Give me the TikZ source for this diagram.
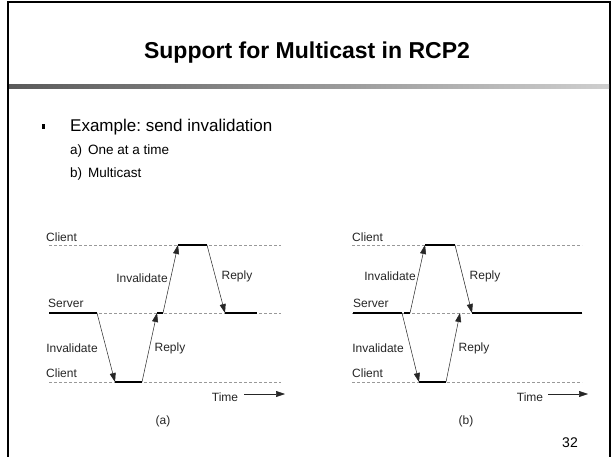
\documentclass[tikz,border=0pt]{standalone}
\usepackage{fontspec}
\setmainfont{Liberation Sans}
\usetikzlibrary{arrows.meta}
\frenchspacing
\definecolor{bardark}{HTML}{5A5A5A}
\definecolor{barlight}{HTML}{CFCFCF}
\definecolor{txt}{HTML}{262626}
\tikzset{
  frame/.style={line width=2pt,black},
  lifeline/.style={draw=gray!80,line width=0.6pt,dash pattern=on 3pt off 2pt},
  busy/.style={line width=2.8pt,black},
  msg/.style={line width=0.5pt,black!85,-{Triangle[length=9pt,width=6pt]}},
  lbl/.style={font=\fontsize{12}{14}\selectfont,text=txt,inner sep=0pt},
  rolelbl/.style={lbl,anchor=west},
  subitem/.style={anchor=base west,inner sep=0pt,font=\fontsize{13.5}{16}\selectfont},
}
\begin{document}
\begin{tikzpicture}[x=1pt,y=-1pt]
\useasboundingbox (0,0) rectangle (613,457);
\fill[white] (0,0) rectangle (613,457);
% slide frame
\draw[frame] (8,457) -- (8,2) -- (610,2) -- (610,457);
\shade[left color=bardark,right color=barlight] (9,85) rectangle (609,89);
\node[font=\fontsize{23}{28}\selectfont\bfseries] (title) at (307,53) {Support for Multicast in RCP2};
% bullets
\fill[black] (41.5,124) rectangle (44.5,129);
\node[anchor=base west,inner sep=0pt,font=\fontsize{17}{20}\selectfont] (ex) at (70,132) {Example: send invalidation};
\node[subitem] (ia) at (70,155) {a)};
\node[subitem] (ta) at (88,155) {One at a time};
\node[subitem] (ib) at (70,178) {b)};
\node[subitem] (tb) at (88,178) {Multicast};

% ===== diagram (a) =====
\draw[lifeline] (49,245) -- (281,245);
\draw[lifeline] (49,313) -- (281,313);
\draw[lifeline] (49,382) -- (281,382);
\coordinate (aS1) at (97,313);
\coordinate (aC1) at (115,382);
\coordinate (aC1e) at (142,382);
\coordinate (aS2) at (157,313);
\coordinate (aS2e) at (163,313);
\coordinate (aT1) at (178,245);
\coordinate (aT1e) at (207,245);
\coordinate (aS3) at (225,313);
\draw[busy] (49,313) -- (aS1);
\draw[busy] (aC1) -- (aC1e);
\draw[busy] (aS2) -- (aS2e);
\draw[busy] (aT1) -- (aT1e);
\draw[busy] (aS3) -- (257,313);
\draw[msg] (aS1) -- (aC1);
\draw[msg] (aC1e) -- (aS2);
\draw[msg] (aS2e) -- (aT1);
\draw[msg] (aT1e) -- (aS3);
\node[rolelbl] (aCl1) at (46,237) {Client};
\node[rolelbl] (aSv) at (48,303) {Server};
\node[rolelbl] (aCl2) at (46,373) {Client};
\node[lbl] (aInv2) at (142,278) {Invalidate};
\node[lbl] (aRep2) at (237,276) {Reply};
\node[lbl] (aInv1) at (72,348) {Invalidate};
\node[lbl] (aRep1) at (170,348) {Reply};
\node[lbl] (aTime) at (225,397) {Time};
\coordinate (aTa) at (244,394);
\coordinate (aTb) at (285,394);
\draw[msg] (aTa) -- (aTb);
\node[lbl] (acap) at (163,421) {(a)};

% ===== diagram (b) =====
\draw[lifeline] (352,245) -- (582,245);
\draw[lifeline] (352,313) -- (582,313);
\draw[lifeline] (352,382) -- (582,382);
\coordinate (bS1) at (402,313);
\coordinate (bS1b) at (404,313);
\coordinate (bS1e) at (410,313);
\coordinate (bT1) at (425,245);
\coordinate (bT1e) at (455,245);
\coordinate (bC1) at (419,382);
\coordinate (bC1e) at (446,382);
\coordinate (bS2) at (460,313);
\coordinate (bS3) at (472,313);
\draw[busy] (353,313) -- (bS1);
\draw[busy] (bS1b) -- (bS1e);
\draw[busy] (bT1) -- (bT1e);
\draw[busy] (bC1) -- (bC1e);
\draw[busy] (bS3) -- (582,313);
\draw[msg] (bS1e) -- (bT1);
\draw[msg] (bT1e) -- (bS3);
\draw[msg] (bS1) -- (bC1);
\draw[msg] (bC1e) -- (bS2);
\node[rolelbl] (bCl1) at (352,237) {Client};
\node[rolelbl] (bSv) at (353,303) {Server};
\node[rolelbl] (bCl2) at (352,373) {Client};
\node[lbl] (bInv2) at (390,276) {Invalidate};
\node[lbl] (bRep2) at (485,276) {Reply};
\node[lbl] (bInv1) at (378,348) {Invalidate};
\node[lbl] (bRep1) at (474,348) {Reply};
\node[lbl] (bTime) at (530,397) {Time};
\coordinate (bTa) at (548,394);
\coordinate (bTb) at (588,394);
\draw[msg] (bTa) -- (bTb);
\node[lbl] (bcap) at (466,421) {(b)};

\node[font=\fontsize{14}{17}\selectfont,inner sep=0pt] (pg) at (570,443) {32};
\end{tikzpicture}
\end{document}
